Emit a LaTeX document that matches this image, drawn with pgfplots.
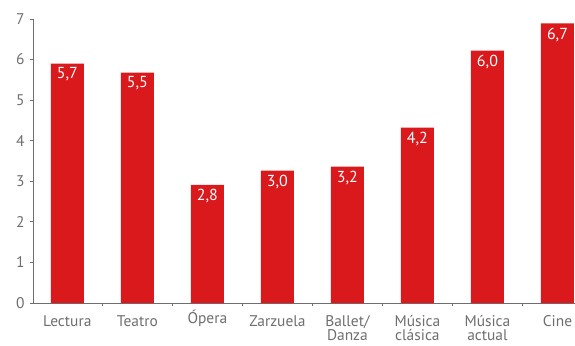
\documentclass[border=0pt]{standalone}
\usepackage{pgfplots}
\pgfplotsset{compat=1.18}
\usepackage{fontspec}
\setmainfont{PT Sans}
\definecolor{barred}{HTML}{DA191D}
\definecolor{axgray}{HTML}{6E6E6E}
\begin{document}
\begin{tikzpicture}
\useasboundingbox (-33bp,-43bp) rectangle (542bp,303bp);
\begin{axis}[
  at={(0,0)}, anchor=south west,
  scale only axis, width=542bp, height=284bp,
  xmin=-0.49, xmax=7.25, ymin=0, ymax=7,
  axis x line=bottom, axis y line=left,
  axis line style={axgray, line width=0.8pt, -},
  xtick={0,...,7},
  xticklabels={Lectura,Teatro,{\smash{Ó}pera},Zarzuela,{Ballet/\\Danza},{Música\\clásica},{Música\\actual},Cine},
  major x tick style={draw=none},
  minor xtick={0.5,1.5,...,6.5},
  minor x tick style={axgray, line width=0.8pt},
  minor tick length=3bp,
  ytick={0,...,7},
  major tick length=3bp,
  ytick style={axgray, line width=0.8pt},
  tick align=outside,
  xticklabel style={font=\fontsize{15.5}{14.5}\selectfont, text=axgray, align=center, anchor=north, yshift=-7bp, inner sep=2bp},
  yticklabel style={font=\fontsize{15.5}{16}\selectfont, text=axgray, xshift=-2bp},
  /pgf/number format/assume math mode=true,
  clip=false,
]
\addplot[ybar, bar width=33bp, fill=barred, draw=none,
  nodes near coords, point meta=explicit symbolic,
  nodes near coords align={below},
  every node near coord/.append style={text=white, font=\fontsize{16}{16}\selectfont, yshift=-1bp, inner sep=3bp}]
  table[x=x, y=y, meta=label] {
x y label
0 5.90 {5,7}
1 5.68 {5,5}
2 2.91 {2,8}
3 3.26 {3,0}
4 3.36 {3,2}
5 4.32 {4,2}
6 6.22 {6,0}
7 6.89 {6,7}
};
\end{axis}
\end{tikzpicture}
\end{document}
